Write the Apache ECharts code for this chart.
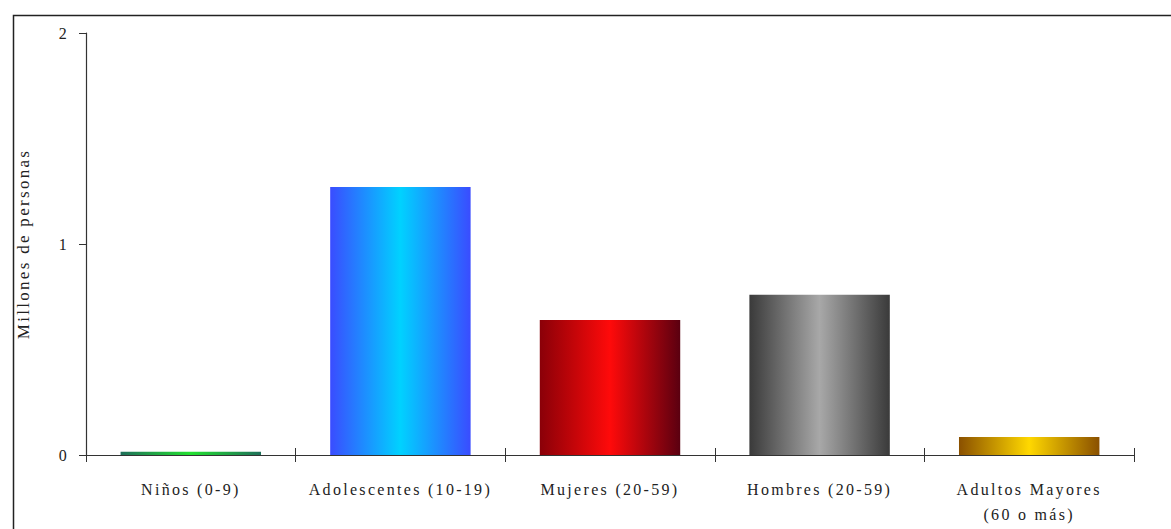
<!DOCTYPE html>
<html>
<head>
<meta charset="utf-8">
<script src="https://cdn.jsdelivr.net/npm/echarts@6/dist/echarts.min.js"></script>
<style>
  html, body { margin: 0; padding: 0; background: #fff; }
  #chart { width: 1171px; height: 529px; }
  #chart text { letter-spacing: 2.3px; }
</style>
</head>
<body>
<div id="chart"></div>
<script>
// Grupos de población y millones de personas por grupo
const categories = ['Niños (0-9)', 'Adolescentes (10-19)', 'Mujeres (20-59)', 'Hombres (20-59)', 'Adultos Mayores\n(60 o más)'];
const values = [0.015, 1.27, 0.64, 0.76, 0.085];
const yTicks = [0, 1, 2];

// Degradado horizontal (borde oscuro, centro claro) para cada barra
const palettes = [
  ['#1f6f5a', '#22e030', '#1f6f5a'],
  ['#3a4cff', '#00d2ff', '#3a4cff'],
  ['#8a0008', '#ff0a0a', '#5a0010'],
  ['#3a3a3a', '#a8a8a8', '#3a3a3a'],
  ['#8a5000', '#ffd800', '#8a5000']
];

function cylinder(c) {
  return new echarts.graphic.LinearGradient(0, 0, 1, 0, [
    { offset: 0, color: c[0] },
    { offset: 0.5, color: c[1] },
    { offset: 1, color: c[2] }
  ]);
}

const chart = echarts.init(document.getElementById('chart'), null, { renderer: 'svg' });
const serif = 'Liberation Serif, Times New Roman, serif';

chart.setOption({
  animation: false,
  backgroundColor: '#fff',
  graphic: [{
    type: 'rect',
    shape: { x: 13.5, y: 15.5, width: 1300, height: 600 },
    style: { fill: 'none', stroke: '#222', lineWidth: 1.5 },
    silent: true
  }],
  grid: { left: 86, right: 37, top: 33, bottom: 74 },
  xAxis: [{
    type: 'category',
    data: categories,
    axisLine: { lineStyle: { color: '#333', width: 1.2 } },
    axisTick: { show: true, length: 7, inside: false, lineStyle: { color: '#333' } },
    axisLabel: { color: '#222', fontFamily: serif, fontSize: 16, margin: 22, lineHeight: 25 }
  }, {
    // marcas interiores: las divisiones cruzan el eje
    type: 'category',
    data: categories,
    position: 'bottom',
    axisLine: { show: false },
    axisTick: { show: true, length: 7, inside: true, lineStyle: { color: '#333' } },
    axisLabel: { show: false },
    splitLine: { show: false }
  }],
  yAxis: {
    type: 'value',
    min: 0,
    max: yTicks[yTicks.length - 1],
    interval: 1,
    name: 'Millones de personas',
    nameLocation: 'middle',
    nameGap: 54,
    nameRotate: 90,
    nameTextStyle: { color: '#222', fontFamily: serif, fontSize: 17 },
    splitLine: { show: false },
    axisLine: { show: true, lineStyle: { color: '#333', width: 1.2 } },
    axisTick: { show: true, length: 7, lineStyle: { color: '#333' } },
    axisLabel: { color: '#222', fontFamily: serif, fontSize: 16, margin: 17 }
  },
  series: [{
    type: 'bar',
    barWidth: '67%',
    data: values.map((v, i) => ({
      value: v,
      itemStyle: { color: cylinder(palettes[i]) }
    }))
  }]
});
</script>
</body>
</html>
